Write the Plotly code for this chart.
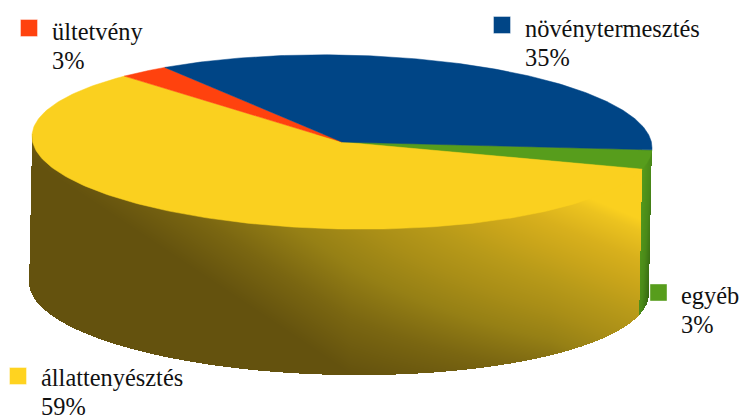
import numpy as np
import plotly.graph_objects as go

# Data
categories = ["egyéb", "állattenyésztés", "ültetvény", "növénytermesztés"]
shares = [3.6, 58.6, 2.7, 35.1]          # slice sizes
labels = ["3%", "59%", "3%", "35%"]
colors = ["#579d1c", "#fad01f", "#ff420e", "#004586"]
swatch_colors = ["#579d1c", "#ffd320", "#ff420e", "#004586"]
label_x = [679, 39, 50, 523]
label_y = [295, 377, 31, 28]
swatch_x = [658.5, 18, 29, 502]
swatch_y = [292.5, 376, 28, 25]

# Projection of the disc (pixel space axes)
CX, CY, RX, RY, H, SHEAR, SKEW = 342, 142, 310, 87, 146, -3, 0.018
START = -1.5

def angles():
    a = START
    out = []
    for s in shares:
        b = a - s * 3.6
        out.append((a, b))
        a = b
    return out

fig = go.Figure()
spans = angles()

# side wall: heatmaps on a pixel grid
xs = np.arange(20, 665) + 0.5
ys = np.arange(120, 385) + 0.5
X, Y = np.meshgrid(xs, ys)

def wall_mask():
    ub = (X - CX - SHEAR) / RX
    yb = np.where(np.abs(ub) <= 1,
                  CY + H + RY * np.sqrt(np.clip(1 - ub**2, 0, 1)) + SKEW * (X - CX),
                  np.nan)
    f = np.clip((Y - CY) / H, 0, 1)
    ul = np.where(X < CX, CX - RX + SHEAR * f, CX + RX + SHEAR * f)
    m = (Y <= np.nan_to_num(yb, nan=CY + H)) & (Y >= CY - 8)
    m &= np.where(X < CX, X >= ul, X <= ul)
    return m

m = wall_mask()
ang = np.radians(spans[0][1])
bx0 = CX + RX * np.cos(ang)
by0 = CY - RY * np.sin(ang) + SKEW * (bx0 - CX)
bx = bx0 + SHEAR * np.clip((Y - by0) / H, 0, 1)
yellow_m = m & (X <= bx)
green_m = m & (X > bx)
a_s = np.radians(spans[0][0])
green_m &= Y >= CY - RY * np.sin(a_s) + SKEW * RX * np.cos(a_s)

t = 0.555 * (X - 150) - 0.832 * (Y - 240) - 0.5 * (Y - 240) * np.clip((X - 350) / 200, 0, 1)
z_y = np.where(yellow_m, t, np.nan)
fig.add_trace(go.Heatmap(
    x=xs, y=ys, z=z_y, showscale=False, hoverinfo="skip", zmin=0, zmax=300,
    colorscale=[[0, "#64520e"], [45 / 300, "#7a6611"], [90 / 300, "#968015"], [130 / 300, "#a98e17"],
                [170 / 300, "#b89a19"], [205 / 300, "#c8a41a"], [245 / 300, "#d8b01c"],
                [284 / 300, "#ecc31f"], [1, "#fad01f"]]))
z_g = np.where(green_m, (X - bx) / 11 * 0.7 + (Y - 150) / 170 * 0.5, np.nan)
fig.add_trace(go.Heatmap(
    x=xs, y=ys, z=z_g, showscale=False, hoverinfo="skip", zmin=0, zmax=1.2,
    colorscale=[[0, "#579d1c"], [0.5, "#4a8a18"], [1, "#2e5a10"]]))

# top face
for (a0, a1), c in zip(spans, colors):
    th = np.radians(np.linspace(a0, a1, 200))
    ex = RX * np.cos(th)
    ey = -RY * np.sin(th) + SKEW * ex
    px = np.concatenate([[CX], CX + ex, [CX]])
    py = np.concatenate([[CY], CY + ey, [CY]])
    fig.add_trace(go.Scatter(x=px, y=py, mode="lines", fill="toself", fillcolor=c,
                             line=dict(width=0.5, color=c), hoverinfo="skip", showlegend=False))

# legend swatches
fig.add_trace(go.Scatter(x=swatch_x, y=swatch_y, mode="markers", hoverinfo="skip", showlegend=False,
                         marker=dict(symbol="square", size=17, color=swatch_colors,
                                     line=dict(width=1, color="rgba(255,255,255,0.4)"))))

FONT = dict(family="Liberation Serif", size=24.4, color="#111111")
for name, lab, x, y in zip(categories, labels, label_x, label_y):
    fig.add_annotation(x=x, y=y, text=name, showarrow=False, xanchor="left", yanchor="middle", font=FONT)
    fig.add_annotation(x=x, y=y + 29, text=lab, showarrow=False, xanchor="left", yanchor="middle", font=FONT)

fig.update_layout(
    width=741, height=418, margin=dict(l=0, r=0, t=0, b=0),
    paper_bgcolor="white", plot_bgcolor="white", showlegend=False,
    xaxis=dict(range=[0, 741], visible=False, fixedrange=True),
    yaxis=dict(range=[418, 0], visible=False, fixedrange=True),
)
fig.write_html("out.html", config={"displayModeBar": False},
               post_script="document.body.style.margin='0';document.documentElement.style.overflow='hidden';")
